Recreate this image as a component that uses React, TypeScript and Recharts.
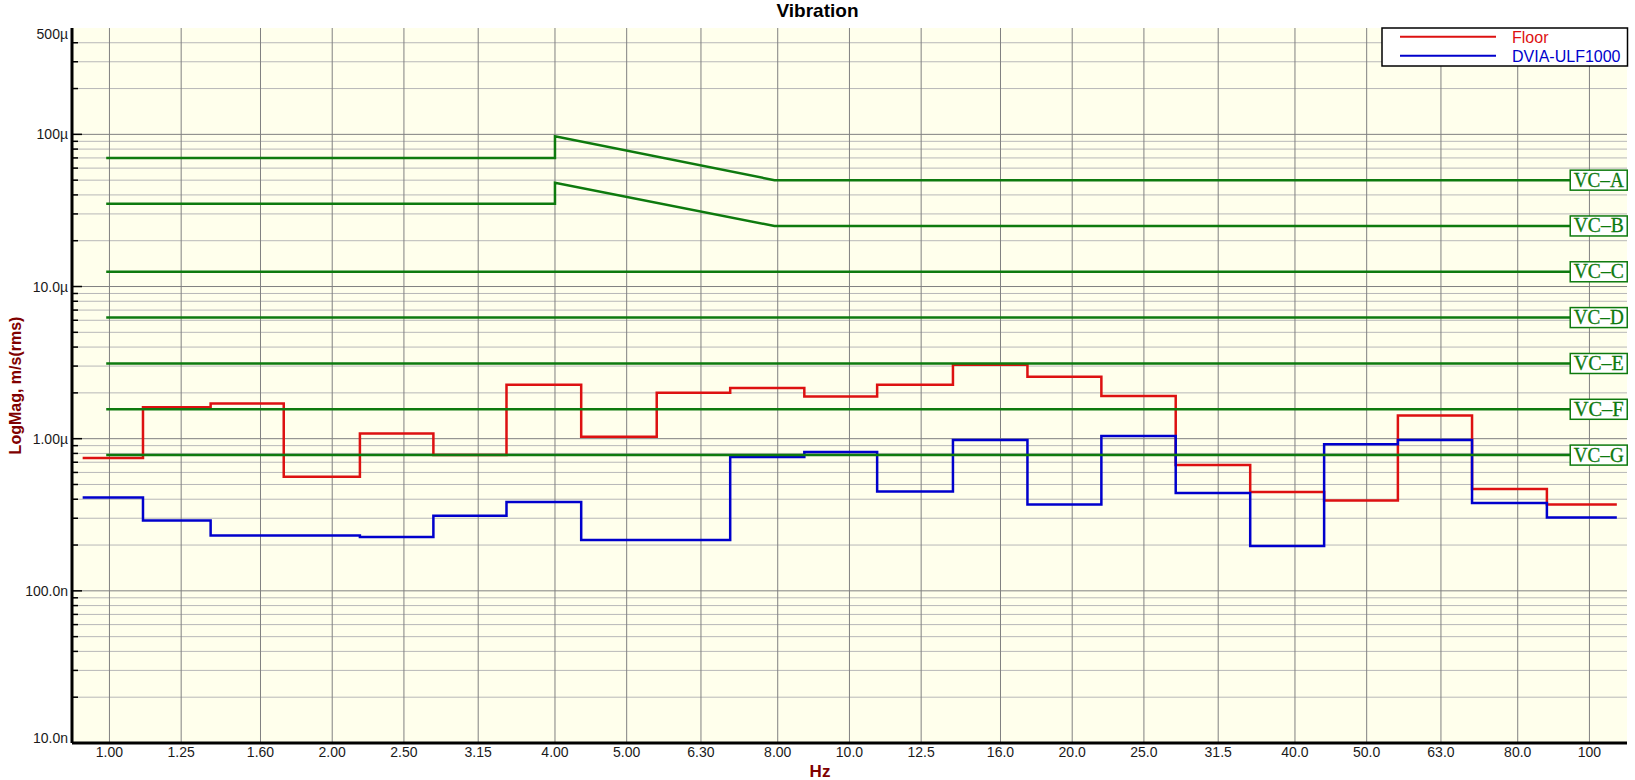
import React from "react";
import { CartesianGrid, Line, LineChart, XAxis, YAxis } from "recharts";

// one-third octave tick frequencies (Hz)
const xTickValues = [1, 1.25, 1.6, 2, 2.5, 3.15, 4, 5, 6.3, 8, 10, 12.5, 16, 20, 25, 31.5, 40, 50, 63, 80, 100];
const xTickLabels = ["1.00", "1.25", "1.60", "2.00", "2.50", "3.15", "4.00", "5.00", "6.30", "8.00", "10.0", "12.5", "16.0", "20.0", "25.0", "31.5", "40.0", "50.0", "63.0", "80.0", "100"];

// band edges (Hz) where the spectra step
const bandEdges = [0.92, 1.11, 1.37, 1.72, 2.18, 2.74, 3.44, 4.34, 5.49, 6.9, 8.69, 10.9, 13.8, 17.4, 21.9, 27.6, 34.8, 43.8, 55.1, 69.4, 87.6, 108.9];

// band levels, µm/s rms
const floorMicro = [0.747, 1.61, 1.7, 0.563, 1.08, 0.78, 2.26, 1.03, 2.0, 2.15, 1.89, 2.26, 3.06, 2.55, 1.91, 0.672, 0.447, 0.393, 1.42, 0.467, 0.369];
const dviaMicro = [0.41, 0.29, 0.231, 0.231, 0.226, 0.311, 0.384, 0.216, 0.216, 0.759, 0.818, 0.449, 0.98, 0.369, 1.04, 0.44, 0.197, 0.92, 0.98, 0.378, 0.303];

// vibration criteria, µm/s
const vcNames = ["VC–A", "VC–B", "VC–C", "VC–D", "VC–E", "VC–F", "VC–G"];
const vcLowMicro = [70, 35, 12.5, 6.25, 3.12, 1.56, 0.78];
const vcPeakMicro = [97, 48];
const vcHighMicro = [50, 25, 12.5, 6.25, 3.12, 1.56, 0.78];
const vcStartHz = 0.99;
const vcKneeLoHz = 4;
const vcKneeHiHz = 7.92;
const vcEndHz = 94.2;

// y axis (m/s)
const yDomain = [1e-8, 5e-4];
const yMajor = [1e-8, 1e-7, 1e-6, 1e-5, 1e-4];
const yMantissas = [2, 3, 4, 5, 6, 7, 8, 9];
const yLabelValues = [5e-4, 1e-4, 1e-5, 1e-6, 1e-7, 1e-8];
const yLabelTexts = ["500µ", "100µ", "10.0µ", "1.00µ", "100.0n", "10.0n"];

const yMinor = yMajor.flatMap((d) => yMantissas.map((m) => m * d)).filter((v) => v < 4.9e-4);
const yTicks = [...yMajor, ...yMinor, 5e-4].sort((a, b) => a - b);
const yMajorGrid = yMajor.slice(1);

const RED = "#DD1111";
const BLUE = "#0000CC";
const GREEN = "#0E7A0E";
const FONT = "'Liberation Sans', Arial, sans-serif";

const near = (a: number, b: number) => Math.abs(a - b) < b * 1e-6;

const stepData = (vals: number[]) => [
  ...vals.map((v, i) => ({ f: bandEdges[i], v: v * 1e-6 })),
  { f: bandEdges[vals.length], v: vals[vals.length - 1] * 1e-6 },
];

const vcData = vcNames.map((_, i) =>
  i < vcPeakMicro.length
    ? [
        { f: vcStartHz, v: vcLowMicro[i] * 1e-6 },
        { f: vcKneeLoHz, v: vcLowMicro[i] * 1e-6 },
        { f: vcKneeLoHz, v: vcPeakMicro[i] * 1e-6 },
        { f: vcKneeHiHz, v: vcHighMicro[i] * 1e-6 },
        { f: vcEndHz, v: vcHighMicro[i] * 1e-6 },
      ]
    : [
        { f: vcStartHz, v: vcLowMicro[i] * 1e-6 },
        { f: vcEndHz, v: vcHighMicro[i] * 1e-6 },
      ]
);

function YTick(props: any) {
  const { x, y, payload } = props;
  const v = payload.value;
  const li = yLabelValues.findIndex((l) => near(v, l));
  const isMajor = yMajor.some((m) => near(v, m));
  const isTop = near(v, 5e-4);
  let dy = 5;
  if (isTop) dy = 11;
  if (near(v, 1e-8)) dy = 0;
  return (
    <g>
      {!isTop && <line x1={x} x2={x + (isMajor ? 10 : 6)} y1={y} y2={y} stroke="#000" strokeWidth={1.5} />}
      {li >= 0 && (
        <text x={x - 4} y={y + dy} textAnchor="end" fontSize={14} fill="#1a1a1a" fontFamily={FONT}>
          {yLabelTexts[li]}
        </text>
      )}
    </g>
  );
}

function XTick(props: any) {
  const { x, y, payload } = props;
  const i = xTickValues.findIndex((t) => near(payload.value, t));
  return (
    <text x={x} y={y + 14} textAnchor="middle" fontSize={14} fill="#1a1a1a" fontFamily={FONT}>
      {xTickLabels[i]}
    </text>
  );
}

const vcLabel = (name: string, last: number) => (props: any) => {
  if (props.index !== last) return <g />;
  const { x, y } = props;
  return (
    <g>
      <rect x={x} y={y - 10} width={57} height={20} fill="#fff" stroke={GREEN} strokeWidth={1.5} />
      <text
        x={x + 28.5}
        y={y + 6.5}
        textAnchor="middle"
        fontSize={20}
        fill={GREEN}
        stroke={GREEN}
        strokeWidth={0.3}
        textLength={50}
        lengthAdjust="spacingAndGlyphs"
        fontFamily="'Liberation Serif', serif"
      >
        {name}
      </text>
    </g>
  );
};

export default function App() {
  return (
    <div style={{ position: "absolute", left: 0, top: 0, width: 1635, height: 780, background: "#fff" }}>
      <LineChart width={1635} height={780} margin={{ top: 28, right: 8, bottom: 0, left: 0 }}>
        <CartesianGrid fill="#FFFFEC" stroke="#B8B8B8" vertical={false} horizontalValues={yMinor} />
        <CartesianGrid stroke="#808080" horizontalValues={yMajorGrid} verticalValues={xTickValues} />
        <XAxis
          dataKey="f"
          type="number"
          scale="log"
          domain={[0.89, 112.4]}
          allowDataOverflow
          ticks={xTickValues}
          interval={0}
          tick={<XTick />}
          tickLine={false}
          tickSize={0}
          tickMargin={0}
          height={37}
          axisLine={{ stroke: "#000", strokeWidth: 3 }}
        />
        <YAxis
          dataKey="v"
          type="number"
          scale="log"
          domain={yDomain}
          allowDataOverflow
          ticks={yTicks}
          interval={0}
          tick={<YTick />}
          tickLine={false}
          tickSize={0}
          tickMargin={0}
          width={72}
          axisLine={{ stroke: "#000", strokeWidth: 3 }}
        />
        <Line
          data={stepData(floorMicro)}
          dataKey="v"
          type="stepAfter"
          stroke={RED}
          strokeWidth={2.5}
          dot={false}
          activeDot={false}
          isAnimationActive={false}
        />
        <Line
          data={stepData(dviaMicro)}
          dataKey="v"
          type="stepAfter"
          stroke={BLUE}
          strokeWidth={2.5}
          dot={false}
          activeDot={false}
          isAnimationActive={false}
        />
        {vcData.map((d, i) => (
          <Line
            key={vcNames[i]}
            data={d}
            dataKey="v"
            type="linear"
            stroke={GREEN}
            strokeWidth={2.5}
            dot={false}
            activeDot={false}
            isAnimationActive={false}
            label={vcLabel(vcNames[i], d.length - 1)}
          />
        ))}
      </LineChart>
      <svg
        width={1635}
        height={780}
        style={{ position: "absolute", left: 0, top: 0, pointerEvents: "none" }}
      >
        <text x={817.5} y={17} textAnchor="middle" fontSize={19} fontWeight="bold" fontFamily={FONT} fill="#000">
          Vibration
        </text>
        <text x={820} y={777} textAnchor="middle" fontSize={17} fontWeight="bold" fontFamily={FONT} fill="#800000">
          Hz
        </text>
        <g transform="translate(15,385.5) rotate(-90)">
          <text x={0} y={5.7} textAnchor="middle" fontSize={16} fontWeight="bold" fontFamily={FONT} fill="#800000">
            LogMag, m/s(rms)
          </text>
        </g>
        <rect x={1382} y={28} width={245.5} height={38} fill="#fff" stroke="#000" strokeWidth={1.5} />
        <line x1={1400} x2={1496} y1={36.7} y2={36.7} stroke={RED} strokeWidth={2} />
        <line x1={1400} x2={1496} y1={55.7} y2={55.7} stroke={BLUE} strokeWidth={2} />
        <text x={1512} y={42.5} fontSize={16} fontFamily={FONT} fill={RED}>
          Floor
        </text>
        <text x={1512} y={61.5} fontSize={16} fontFamily={FONT} fill={BLUE}>
          DVIA-ULF1000
        </text>
      </svg>
    </div>
  );
}
